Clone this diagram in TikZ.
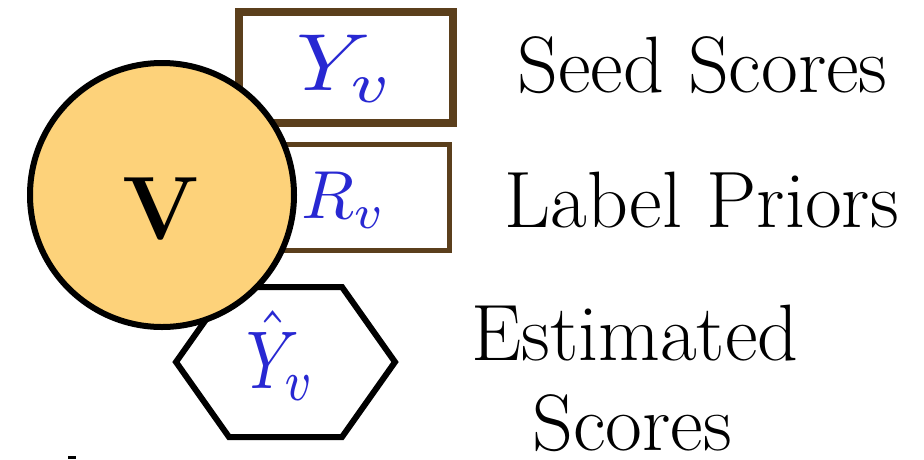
\documentclass[tikz,border=0pt]{standalone}
\usepackage{amsmath}
\usepackage{graphicx}
\definecolor{nodefill}{RGB}{253,210,122}
\definecolor{boxbrown}{RGB}{91,63,28}
\definecolor{mathblue}{RGB}{40,40,210}
\tikzset{
  labeltext/.style={font=\fontsize{80}{84}\selectfont, anchor=base west, inner sep=0pt},
  mathlabel/.style={text=mathblue, anchor=base west, inner sep=0pt},
  scorebox/.style={draw=boxbrown, fill=white},
}
\begin{document}
\begin{tikzpicture}[x=1pt,y=-1pt]
\fill[white] (0,0) rectangle (924,459);
\useasboundingbox (0,0) rectangle (924,459);
% boxes
\draw[scorebox, line width=8pt] (238.5,11.5) rectangle (452.5,122.5);
\draw[scorebox, line width=5.5pt] (270,144.5) rectangle (449.5,250.5);
% hexagon
\draw[line width=6pt, fill=white, line join=miter]
  (176,362) -- (229,287) -- (342,287) -- (395,362) -- (342,437) -- (229,437) -- cycle;
% math labels
\node[mathlabel] (yv) at (296,90) {\scalebox{9.3}[8.1]{$Y_v$}};
\node[mathlabel] (rv) at (301,218) {\scalebox{6.9}[6.8]{$R_v$}};
\node[mathlabel] (yhat) at (246,388) {\scalebox{6.6}[8.2]{$\hat{Y}_v$}};
% circle
\draw[line width=6pt, fill=nodefill] (162,195) circle[radius=132];
\node[font=\fontsize{90}{94}\selectfont\bfseries, inner sep=0pt] (v) at (161,209) {V};
% texts
\node[labeltext] (seed) at (517,92) {Seed Scores};
\node[labeltext] (prior) at (504,227) {Label Priors};
\node[labeltext] (est1) at (471,360) {Estimated};
\node[labeltext] (est2) at (532,450) {Scores};
% small mark
\fill[black] (68,456) rectangle (76,459);
\end{tikzpicture}
\end{document}
